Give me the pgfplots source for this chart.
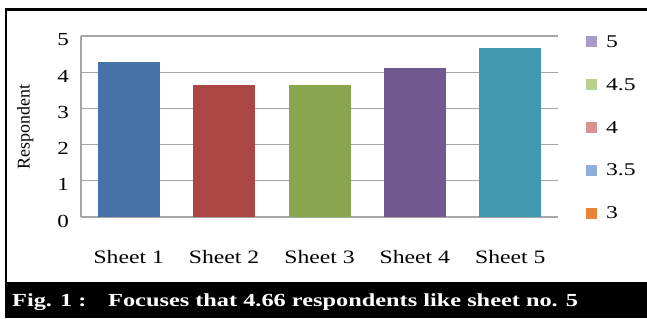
\documentclass[border=0pt]{standalone}
\usepackage{fontspec}
\setmainfont{Liberation Serif}
\newfontfamily\wideserif[FakeStretch=1.25]{Liberation Serif}
\newfontfamily\capserif[FakeStretch=1.32]{Liberation Serif}
\usepackage{pgfplots}
\pgfplotsset{compat=1.18}
\definecolor{barA}{HTML}{4572A7}
\definecolor{barB}{HTML}{AA4643}
\definecolor{barC}{HTML}{89A54E}
\definecolor{barD}{HTML}{71588F}
\definecolor{barE}{HTML}{4198AF}
\definecolor{legA}{HTML}{A99BC8}
\definecolor{legB}{HTML}{B7D18F}
\definecolor{legC}{HTML}{D79392}
\definecolor{legD}{HTML}{8FAEDA}
\definecolor{legE}{HTML}{E8833A}
\definecolor{gridc}{HTML}{A6A6A6}
\begin{document}
\begin{tikzpicture}[x=1bp,y=1bp]
\useasboundingbox (0,0) rectangle (647,318);
\fill[white] (0,0) rectangle (647,318);
\draw[line width=2.5bp] (6.2,36) -- (6.2,308.7) -- (647,308.7);
\fill[black] (5,0) rectangle (647,36);
\node[anchor=base west, text=white, inner sep=0pt, font=\capserif\bfseries\fontsize{18.5}{20}\selectfont] at (12,11.5) {Fig. 1 :};
\node[anchor=base west, text=white, inner sep=0pt, font=\capserif\bfseries\fontsize{18.5}{20}\selectfont] at (108,11.5) {Focuses that 4.66 respondents like sheet no. 5};
\begin{axis}[
  at={(81bp,101bp)}, anchor=south west,
  scale only axis, width=477bp, height=181bp,
  xmin=-0.5, xmax=4.5, ymin=0, ymax=5,
  ybar, bar width=62bp, bar shift=0pt,
  xtick={0,1,2,3,4},
  xticklabels={Sheet 1,Sheet 2,Sheet 3,Sheet 4,Sheet 5},
  ytick={0,1,2,3,4,5},
  major tick length=0pt,
  axis lines*=left,
  axis line style={gridc, line width=1.2bp},
  ymajorgrids, grid style={gridc, line width=1.2bp},
  /pgf/number format/assume math mode=true,
  yticklabel style={font=\wideserif\fontsize{18.5}{20}\selectfont, anchor=east, xshift=-8.7bp, yshift=-4bp},
  xticklabel style={font=\wideserif\fontsize{19}{22}\selectfont, anchor=base, yshift=-46bp},
  ylabel={Respondent},
  ylabel style={font=\fontsize{18}{20}\selectfont, at={(axis description cs:-0.117,0.497)}, anchor=center, rotate=0},
  legend style={at={(axis description cs:1.058,1.013)}, anchor=north west, draw=none, fill=none, inner sep=0pt, outer sep=0pt,
    font=\capserif\fontsize{18}{20}\selectfont, column sep=8bp, row sep=26.8bp,
    nodes={text height=12bp, text depth=0bp}},
  legend cell align=left,
  legend image code/.code={\fill[#1] (0bp,-5bp) rectangle (10bp,5bp);},
]
\addplot[fill=barA, draw=none, forget plot] coordinates {(0,4.27)};
\addplot[fill=barB, draw=none, forget plot] coordinates {(1,3.65)};
\addplot[fill=barC, draw=none, forget plot] coordinates {(2,3.65)};
\addplot[fill=barD, draw=none, forget plot] coordinates {(3,4.11)};
\addplot[fill=barE, draw=none, forget plot] coordinates {(4,4.66)};
\addlegendimage{legA}\addlegendentry{5}
\addlegendimage{legB}\addlegendentry{4.5}
\addlegendimage{legC}\addlegendentry{4}
\addlegendimage{legD}\addlegendentry{3.5}
\addlegendimage{legE}\addlegendentry{3}
\end{axis}
\end{tikzpicture}
\end{document}
